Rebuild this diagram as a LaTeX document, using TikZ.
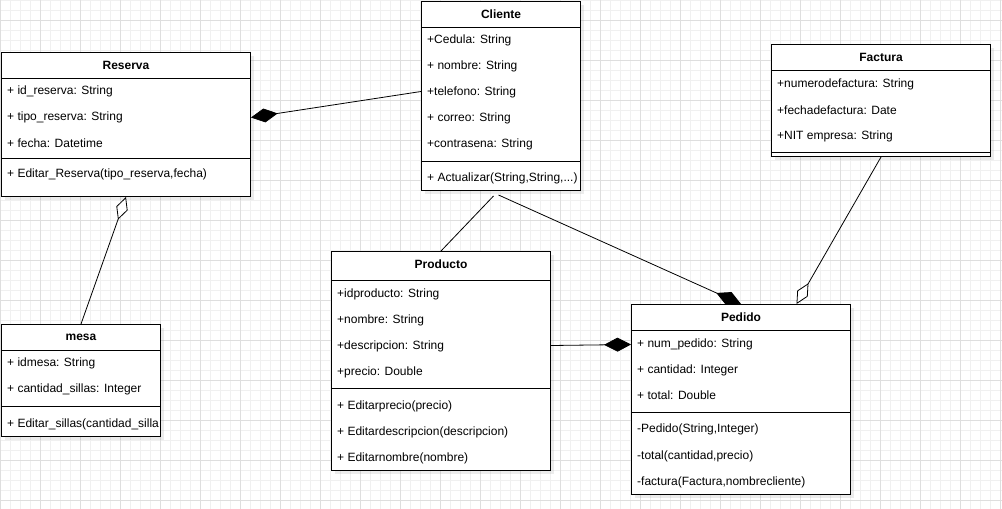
\documentclass[tikz,border=0pt]{standalone}
\usepackage{fontspec}
\setmainfont{Liberation Sans}
\usetikzlibrary{calc, arrows.meta, shadows}
\definecolor{gridminor}{RGB}{240,240,240}
\definecolor{gridmajor}{RGB}{222,222,222}

\begin{document}
\begin{tikzpicture}[x=1pt,y=-1pt,
    umlbox/.style={draw,line width=1pt,fill=white,anchor=north west,inner sep=0pt,
      drop shadow={shadow xshift=3pt,shadow yshift=-3pt,opacity=0.15}},
    head/.style={inner sep=0pt,font=\fontsize{12}{14}\selectfont\bfseries},
    field/.style={anchor=west,inner sep=0pt,font=\fontsize{12}{14}\selectfont},
    sep/.style={line width=1pt},
    link/.style={line width=0.8pt},
    comp/.style={link,-{Diamond[length=27pt,width=14pt]}},
    aggr/.style={link,-{Diamond[open,fill=white,length=24pt,width=12pt]}}]
  \useasboundingbox (0,0) rectangle (1002,509);
  % grid
  \fill[white] (0,0) rectangle (1002,509);
  \draw[gridminor,line width=0.8pt]
    \foreach \x in {0,10,...,1000} {(\x,0) -- (\x,509)}
    \foreach \y in {0,10,...,500} {(0,\y) -- (1002,\y)};
  \draw[gridmajor,line width=0.8pt]
    \foreach \x in {0,40,...,1000} {(\x,0) -- (\x,509)}
    \foreach \y in {20,60,...,500} {(0,\y) -- (1002,\y)};
  % classes
  \node[umlbox,minimum width=249pt,minimum height=144pt] (reserva) at (1,52) {};
  \node[umlbox,minimum width=159pt,minimum height=189pt] (cliente) at (421,1) {};
  \node[umlbox,minimum width=219pt,minimum height=112pt] (factura) at (771,44) {};
  \node[umlbox,minimum width=159pt,minimum height=112pt] (mesa) at (1,324) {};
  \node[umlbox,minimum width=219pt,minimum height=219pt] (producto) at (331,251) {};
  \node[umlbox,minimum width=219pt,minimum height=190pt] (pedido) at (631,304) {};
  \foreach \n/\t/\a/\b in {reserva/Reserva/26/106, cliente/Cliente/26/160,
      factura/Factura/26/108, mesa/mesa/26/82.5, producto/Producto/29/137,
      pedido/Pedido/26/108}
  {\node[head] (\n-t) at ($(\n.north)+(0,13)$) {\t};
   \draw[sep] ($(\n.north west)+(0,\a)$) -- ($(\n.north east)+(0,\a)$);
   \draw[sep] ($(\n.north west)+(0,\b)$) -- ($(\n.north east)+(0,\b)$);}
  % attributes and methods
  \foreach \dy/\txt [count=\i] in {39/+ id\_reserva: String, 65/+ tipo\_reserva: String,
      91/+ fecha: Datetime, 122/{+ Editar\_Reserva(tipo\_reserva,fecha)}}
    \node[field] (reserva-\i) at ($(reserva.north west)+(6,\dy)$) {\txt};
  \foreach \dy/\txt [count=\i] in {39/+Cedula: String, 65/+ nombre: String,
      91/+telefono: String, 117/+ correo: String, 143/+contrasena: String}
    \node[field] (cliente-\i) at ($(cliente.north west)+(6,\dy)$) {\txt};
  \node[field] (cliente-m) at ($(cliente.north west)+(6,177)$) {+ Actualizar(String,String,...)};
  \foreach \dy/\txt [count=\i] in {40/+numerodefactura: String, 66/+fechadefactura: Date,
      92/+NIT empresa: String}
    \node[field] (factura-\i) at ($(factura.north west)+(6,\dy)$) {\txt};
  \foreach \dy/\txt [count=\i] in {39/+ idmesa: String, 65.5/+ cantidad\_sillas: Integer,
      100.5/+ Editar\_sillas(cantidad\_silla}
    \node[field] (mesa-\i) at ($(mesa.north west)+(6,\dy)$) {\txt};
  \foreach \dy/\txt [count=\i] in {43/+idproducto: String, 69/+nombre: String,
      95/+descripcion: String, 121/+precio: Double, 155/+ Editarprecio(precio),
      181/+ Editardescripcion(descripcion), 207/+ Editarnombre(nombre)}
    \node[field] (producto-\i) at ($(producto.north west)+(6,\dy)$) {\txt};
  \foreach \dy/\txt [count=\i] in {40/+ num\_pedido: String, 66/+ cantidad: Integer,
      91.5/+ total: Double, 125/{-Pedido(String,Integer)}, 152/{-total(cantidad,precio)},
      178/{-factura(Factura,nombrecliente)}}
    \node[field] (pedido-\i) at ($(pedido.north west)+(6,\dy)$) {\txt};
  % relations
  \draw[comp] ([yshift=4.5pt]cliente.west) -- ([yshift=7pt]reserva.east);
  \draw[aggr] (mesa.north) -- (reserva.south);
  \draw[link] ([xshift=-7.5pt,yshift=-5pt]cliente.south) -- (producto.north);
  \draw[comp] ([xshift=-2.5pt,yshift=-4pt]cliente.south) -- (pedido.north);
  \draw[aggr] (factura.south) -- ([xshift=55.5pt]pedido.north);
  \draw[comp] ([yshift=15.5pt]producto.east) -- ([yshift=55pt]pedido.west);
\end{tikzpicture}
\end{document}
